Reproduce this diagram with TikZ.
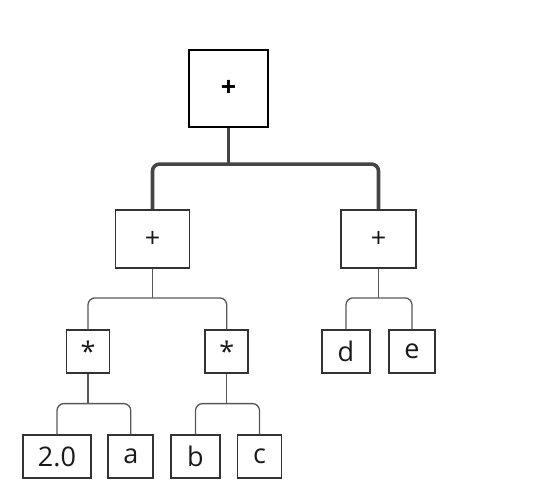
\documentclass[tikz,border=0pt]{standalone}
\usepackage{fontspec}
\setmainfont{Open Sans}
\usepackage{tikz}
\usetikzlibrary{positioning,calc}
\definecolor{linegray}{RGB}{68,68,68}
\definecolor{boxgray}{RGB}{51,51,51}

\begin{document}
\begin{tikzpicture}[x=1pt,y=-1pt,font=\fontsize{27}{29}\selectfont,
   op/.style={draw=boxgray,line width=1.8pt,minimum height=43pt,inner sep=0pt,
              text=black!90},
   root/.style={draw=black,line width=2.2pt,minimum width=79pt,minimum height=77pt,
              inner sep=0pt,font=\fontsize{27}{29}\selectfont\bfseries},
   thickconn/.style={draw=linegray,line width=3.6pt,rounded corners=7pt},
   thinconn/.style={draw=linegray!90,line width=1.3pt,rounded corners=7pt}]
  \useasboundingbox (0,0) rectangle (551,500);
  % root and second level
  \node[root] (top) at (228.5,88.5) {+};
  \node[op,minimum width=74pt,minimum height=58pt] (suml) at (152.5,239) {+};
  \node[op,minimum width=75pt,minimum height=58pt] (sumr) at (378.5,239) {+};
  % third level
  \node[op,minimum width=43pt] (mull) at (88,351.7) {*};
  \node[op,minimum width=43pt] (mulr) at (226.7,351.7) {*};
  \node[op,minimum width=48pt] (vard) at (346,351.7) {d};
  \node[op,minimum width=46pt] (vare) at (412,351.7) {e};
  % leaves
  \node[op,minimum width=68pt] (num) at (57,456.7) {2.0};
  \node[op,minimum width=45pt] (vara) at (130.8,456.7) {a};
  \node[op,minimum width=49pt] (varb) at (195.5,456.7) {b};
  \node[op,minimum width=44pt] (varc) at (259.5,456.7) {c};
  % connectors
  \draw[thickconn] (top.south) -- ++(0,36) coordinate (j0);
  \draw[thickconn] (suml.north) |- (j0) -| (sumr.north);
  \draw[thinconn] (suml.south) -- ++(0,29) coordinate (j1);
  \draw[thinconn] (mull.north) |- (j1) -| (mulr.north);
  \draw[thinconn] (sumr.south) -- ++(0,29) coordinate (j2);
  \draw[thinconn] (vard.north) |- (j2) -| (vare.north);
  \draw[thinconn] (mull.south) -- ++(0,29.5) coordinate (j3);
  \draw[thinconn] (num.north) |- (j3) -| (vara.north);
  \draw[thinconn] (mulr.south) -- ++(0,29.5) coordinate (j4);
  \draw[thinconn] (varb.north) |- (j4) -| (varc.north);
\end{tikzpicture}
\end{document}
